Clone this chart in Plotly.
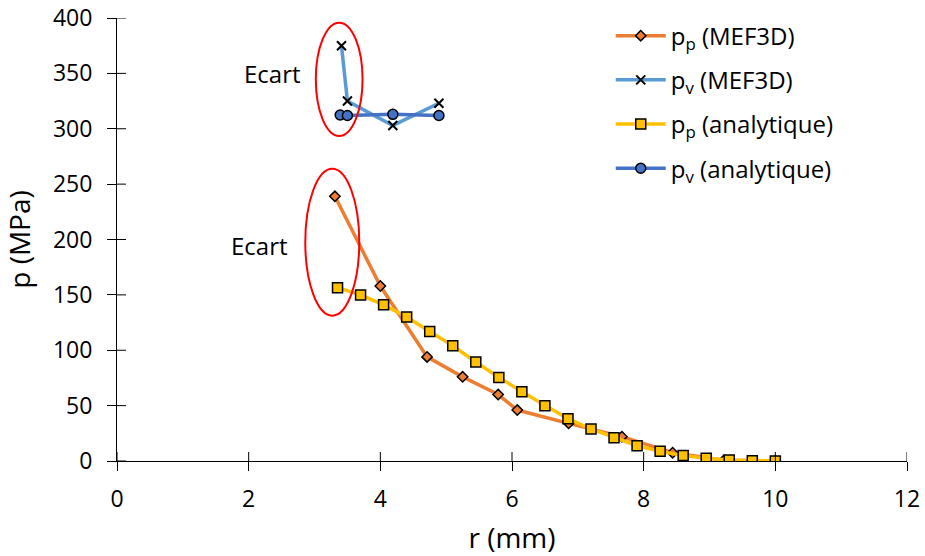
import plotly.graph_objects as go

# Data
r_pp_mef = [3.31, 4.0, 4.71, 5.25, 5.79, 6.08, 6.86, 7.67, 8.44, 9.22, 10.0]
p_pp_mef = [239, 158, 94, 76, 60, 46, 34, 22, 7.5, 0.6, 0]

r_pv_mef = [3.41, 3.50, 4.19, 4.89]
p_pv_mef = [375, 325, 303, 323]

r_pp_ana = [3.35, 3.70, 4.05, 4.40, 4.75, 5.10, 5.45, 5.80, 6.15, 6.50,
            6.85, 7.20, 7.55, 7.90, 8.25, 8.60, 8.95, 9.30, 9.65, 10.0]
p_pp_ana = [156.5, 150, 141, 130, 117, 104, 89.4, 75.5, 62.6, 50,
            38.2, 28.9, 21, 13.8, 8.7, 5, 2.4, 0.9, 0.3, 0]

r_pv_ana = [3.39, 3.50, 4.19, 4.89]
p_pv_ana = [312.4, 312, 313, 312]

x_ticks = [0, 2, 4, 6, 8, 10, 12]
y_ticks = [0, 50, 100, 150, 200, 250, 300, 350, 400]

names = ["p<sub>p</sub> (MEF3D)", "p<sub>v</sub> (MEF3D)",
         "p<sub>p</sub> (analytique)", "p<sub>v</sub> (analytique)"]

FONT = "Open Sans"
W, H = 925, 556
ML, MR, MT, MB = 117, 18, 18, 95
TICK = 9

fig = go.Figure()

fig.add_trace(go.Scatter(x=r_pp_mef, y=p_pp_mef, name=names[0], mode="lines+markers",
                         legendgroup="a",
                         line=dict(color="#ED7D31", width=3.5),
                         marker=dict(symbol="diamond", size=8, color="#ED7D31",
                                     line=dict(color="black", width=1.5))))
fig.add_trace(go.Scatter(x=r_pv_mef, y=p_pv_mef, name=names[1], mode="lines+markers",
                         legendgroup="b",
                         line=dict(color="#5B9BD5", width=3.5),
                         marker=dict(symbol="x-thin", size=9, color="black",
                                     line=dict(color="black", width=2))))
fig.add_trace(go.Scatter(x=r_pp_ana, y=p_pp_ana, name=names[2], mode="lines+markers",
                         legendgroup="c",
                         line=dict(color="#FFC000", width=3.5),
                         marker=dict(symbol="square", size=10, color="#FFC000",
                                     line=dict(color="black", width=1.5))))
fig.add_trace(go.Scatter(x=r_pv_ana, y=p_pv_ana, name=names[3], mode="lines+markers",
                         legendgroup="d",
                         line=dict(color="#4472C4", width=3.5),
                         marker=dict(symbol="circle", size=10, color="#4472C4",
                                     line=dict(color="black", width=1.5))))

# inner half of the crossing tick marks
pw = W - ML - MR
ph = H - MT - MB
for v in y_ticks:
    fig.add_shape(type="line", xref="x domain", yref="y", x0=0, x1=TICK / pw, y0=v, y1=v,
                  line=dict(color="black", width=1))
for v in x_ticks:
    fig.add_shape(type="line", xref="x", yref="y domain", x0=v, x1=v, y0=0, y1=TICK / ph,
                  line=dict(color="black", width=1))

# Ellipses
fig.add_shape(type="circle", xref="x", yref="y", x0=3.02, x1=3.73, y0=293.5, y1=395.8,
              line=dict(color="red", width=2))
fig.add_shape(type="circle", xref="x", yref="y", x0=2.86, x1=3.68, y0=131.2, y1=263.9,
              line=dict(color="red", width=2))

fig.add_annotation(x=2.355, y=350.3, text="Ecart", showarrow=False,
                   font=dict(size=24, color="black", family=FONT))
fig.add_annotation(x=2.17, y=195, text="Ecart", showarrow=False,
                   font=dict(size=24, color="black", family=FONT))

tick_common = dict(showgrid=False, zeroline=False, ticklen=TICK, tickwidth=1,
                   tickcolor="black", automargin=False, ticks="outside",
                   showline=True, linecolor="black", linewidth=1)

fig.update_layout(
    width=W, height=H,
    margin=dict(l=ML, r=MR, t=MT, b=MB),
    paper_bgcolor="white", plot_bgcolor="white",
    font=dict(family=FONT, size=23, color="black"),
    xaxis=dict(range=[0, 12], tickvals=x_ticks, ticklabelstandoff=8,
               title=dict(text="r (mm)", standoff=24),
               **tick_common),
    yaxis=dict(range=[0, 400], tickvals=y_ticks, ticklabelstandoff=10,
               title=dict(text="p (MPa)", standoff=14),
               **tick_common),
    legend=dict(x=0.625, y=1.01, xanchor="left", yanchor="top",
                bgcolor="rgba(0,0,0,0)", font=dict(size=24, family=FONT),
                traceorder="grouped", tracegroupgap=10, itemwidth=50),
    showlegend=True,
)

fig.write_html("out.html", config={"displayModeBar": False},
               post_script="document.body.style.margin='0';document.body.style.overflow='hidden';")
